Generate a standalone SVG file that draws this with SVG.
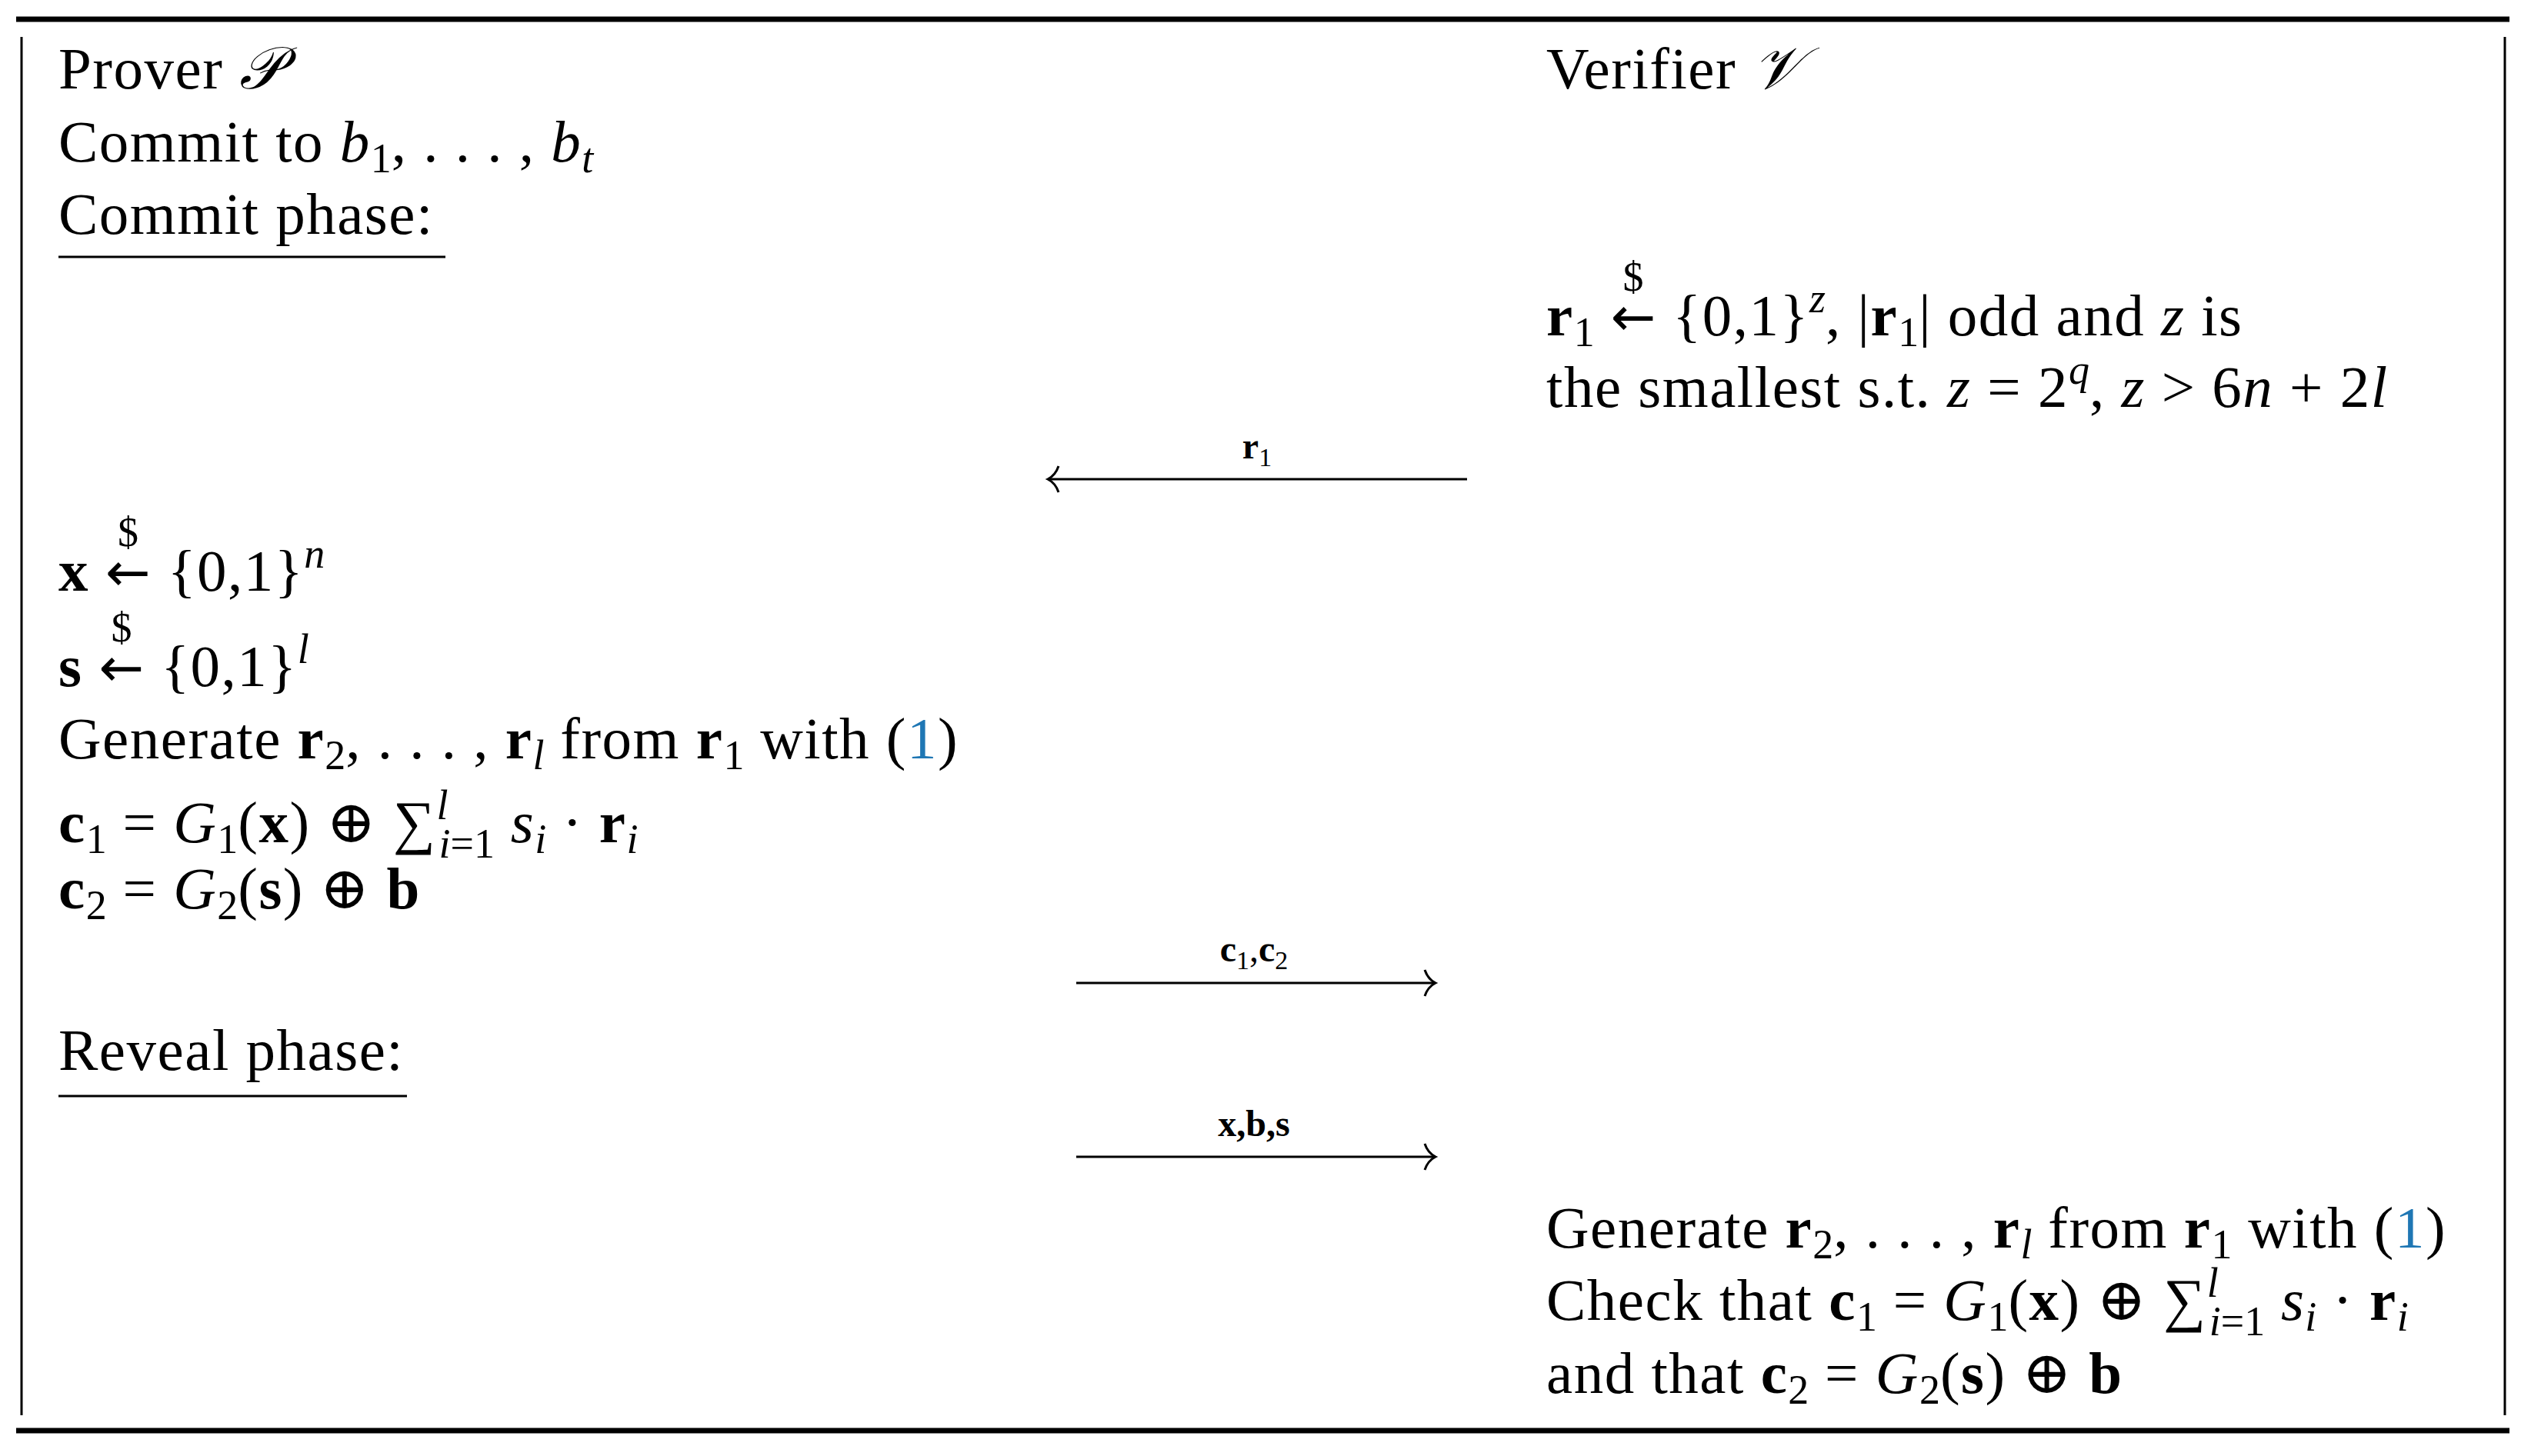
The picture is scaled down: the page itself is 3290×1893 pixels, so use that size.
<svg xmlns="http://www.w3.org/2000/svg" width="3290" height="1893" viewBox="0 0 3290 1893">
<style>
text{font-family:"Liberation Serif","DejaVu Serif",serif;font-size:77px;letter-spacing:1.5px;fill:#000}
.i{font-style:italic}
.b{font-weight:bold}
.s{font-size:54px;letter-spacing:0}
.l{font-size:48px;letter-spacing:0}
.ar{font-family:"DejaVu Sans",sans-serif;font-size:70px}
.blue{fill:#1f77b4}
.rule{stroke:#000;fill:none}
</style>
<defs>
<marker id="ah" markerWidth="30" markerHeight="40" refX="18" refY="20" orient="auto" markerUnits="userSpaceOnUse">
<path d="M4,3 Q8,15 18,20 Q8,25 4,37" fill="none" stroke="#000" stroke-width="3"/>
</marker>
</defs>
<rect width="3290" height="1893" fill="#fff"/>
<g id="frame">
<line class="rule" x1="21" y1="25" x2="3262" y2="25" stroke-width="7"/>
<line class="rule" x1="21" y1="1860" x2="3262" y2="1860" stroke-width="7"/>
<line class="rule" x1="28" y1="48" x2="28" y2="1840" stroke-width="3"/>
<line class="rule" x1="3256" y1="48" x2="3256" y2="1840" stroke-width="3"/>
</g>
<g id="prover">
<text x="76" y="115">Prover <tspan class="i">𝒫</tspan></text>
<text x="76" y="210">Commit to <tspan class="i">b</tspan><tspan class="s" dy="14">1</tspan><tspan dy="-14">, . . . , </tspan><tspan class="i">b</tspan><tspan class="s i" dy="14">t</tspan></text>
<text x="76" y="304">Commit phase:</text>
<line class="rule" x1="76" y1="334" x2="579" y2="334" stroke-width="3"/>
<text x="76" y="768"><tspan class="b">x</tspan> <tspan class="ar">←</tspan><tspan class="s" dx="-44" dy="-58">$</tspan><tspan dx="17" dy="58"> {0,1}</tspan><tspan class="s i" dy="-30">n</tspan></text>
<text x="76" y="892"><tspan class="b">s</tspan> <tspan class="ar">←</tspan><tspan class="s" dx="-44" dy="-58">$</tspan><tspan dx="17" dy="58"> {0,1}</tspan><tspan class="s i" dy="-30">l</tspan></text>
<text x="76" y="986">Generate <tspan class="b">r</tspan><tspan class="s" dy="14">2</tspan><tspan dy="-14">, . . . , </tspan><tspan class="b">r</tspan><tspan class="s i" dy="14">l</tspan><tspan dy="-14"> from </tspan><tspan class="b">r</tspan><tspan class="s" dy="14">1</tspan><tspan dy="-14"> with (</tspan><tspan class="blue">1</tspan>)</text>
<text x="76" y="1095"><tspan class="b">c</tspan><tspan class="s" dy="14">1</tspan><tspan dy="-14"> = </tspan><tspan class="i">G</tspan><tspan class="s" dy="14">1</tspan><tspan dy="-14">(</tspan><tspan class="b">x</tspan>) ⊕ ∑<tspan class="s i" dy="-30">l</tspan><tspan class="s" dx="-12" dy="50"><tspan class="i">i</tspan>=1</tspan><tspan class="i" dy="-20"> s</tspan><tspan class="s i" dy="14">i</tspan><tspan dy="-14"> · </tspan><tspan class="b">r</tspan><tspan class="s i" dy="14">i</tspan></text>
<text x="76" y="1181"><tspan class="b">c</tspan><tspan class="s" dy="14">2</tspan><tspan dy="-14"> = </tspan><tspan class="i">G</tspan><tspan class="s" dy="14">2</tspan><tspan dy="-14">(</tspan><tspan class="b">s</tspan>) ⊕ <tspan class="b">b</tspan></text>
<text x="76" y="1391">Reveal phase:</text>
<line class="rule" x1="76" y1="1425" x2="529" y2="1425" stroke-width="3"/>
</g>
<g id="verifier">
<text x="2010" y="115">Verifier <tspan class="i">𝒱</tspan></text>
<text x="2010" y="436"><tspan class="b">r</tspan><tspan class="s" dy="14">1</tspan><tspan dy="-14"> </tspan><tspan class="ar">←</tspan><tspan class="s" dx="-44" dy="-58">$</tspan><tspan dx="17" dy="58"> {0,1}</tspan><tspan class="s i" dy="-30">z</tspan><tspan dy="30">, |</tspan><tspan class="b">r</tspan><tspan class="s" dy="14">1</tspan><tspan dy="-14">| odd and </tspan><tspan class="i">z</tspan> is</text>
<text x="2010" y="529">the smallest s.t. <tspan class="i">z</tspan> = 2<tspan class="s i" dy="-30">q</tspan><tspan dy="30">, </tspan><tspan class="i">z</tspan> &gt; 6<tspan class="i">n</tspan> + 2<tspan class="i">l</tspan></text>
<text x="2010" y="1622">Generate <tspan class="b">r</tspan><tspan class="s" dy="14">2</tspan><tspan dy="-14">, . . . , </tspan><tspan class="b">r</tspan><tspan class="s i" dy="14">l</tspan><tspan dy="-14"> from </tspan><tspan class="b">r</tspan><tspan class="s" dy="14">1</tspan><tspan dy="-14"> with (</tspan><tspan class="blue">1</tspan>)</text>
<text x="2010" y="1716">Check that <tspan class="b">c</tspan><tspan class="s" dy="14">1</tspan><tspan dy="-14"> = </tspan><tspan class="i">G</tspan><tspan class="s" dy="14">1</tspan><tspan dy="-14">(</tspan><tspan class="b">x</tspan>) ⊕ ∑<tspan class="s i" dy="-30">l</tspan><tspan class="s" dx="-12" dy="50"><tspan class="i">i</tspan>=1</tspan><tspan class="i" dy="-20"> s</tspan><tspan class="s i" dy="14">i</tspan><tspan dy="-14"> · </tspan><tspan class="b">r</tspan><tspan class="s i" dy="14">i</tspan></text>
<text x="2010" y="1811">and that <tspan class="b">c</tspan><tspan class="s" dy="14">2</tspan><tspan dy="-14"> = </tspan><tspan class="i">G</tspan><tspan class="s" dy="14">2</tspan><tspan dy="-14">(</tspan><tspan class="b">s</tspan>) ⊕ <tspan class="b">b</tspan></text>
</g>
<g id="connectors">
<line class="rule" x1="1907" y1="623" x2="1362" y2="623" stroke-width="3" marker-end="url(#ah)"/>
<text x="1634" y="596" class="l" text-anchor="middle"><tspan class="b">r</tspan><tspan style="font-size:34px" dy="10">1</tspan></text>
<line class="rule" x1="1399" y1="1278" x2="1866" y2="1278" stroke-width="3" marker-end="url(#ah)"/>
<text x="1630" y="1250" class="l" text-anchor="middle"><tspan class="b">c</tspan><tspan style="font-size:34px" dy="10">1</tspan><tspan dy="-10">,</tspan><tspan class="b">c</tspan><tspan style="font-size:34px" dy="10">2</tspan></text>
<line class="rule" x1="1399" y1="1504" x2="1866" y2="1504" stroke-width="3" marker-end="url(#ah)"/>
<text x="1630" y="1477" class="l b" text-anchor="middle">x,b,s</text>
</g>
</svg>
